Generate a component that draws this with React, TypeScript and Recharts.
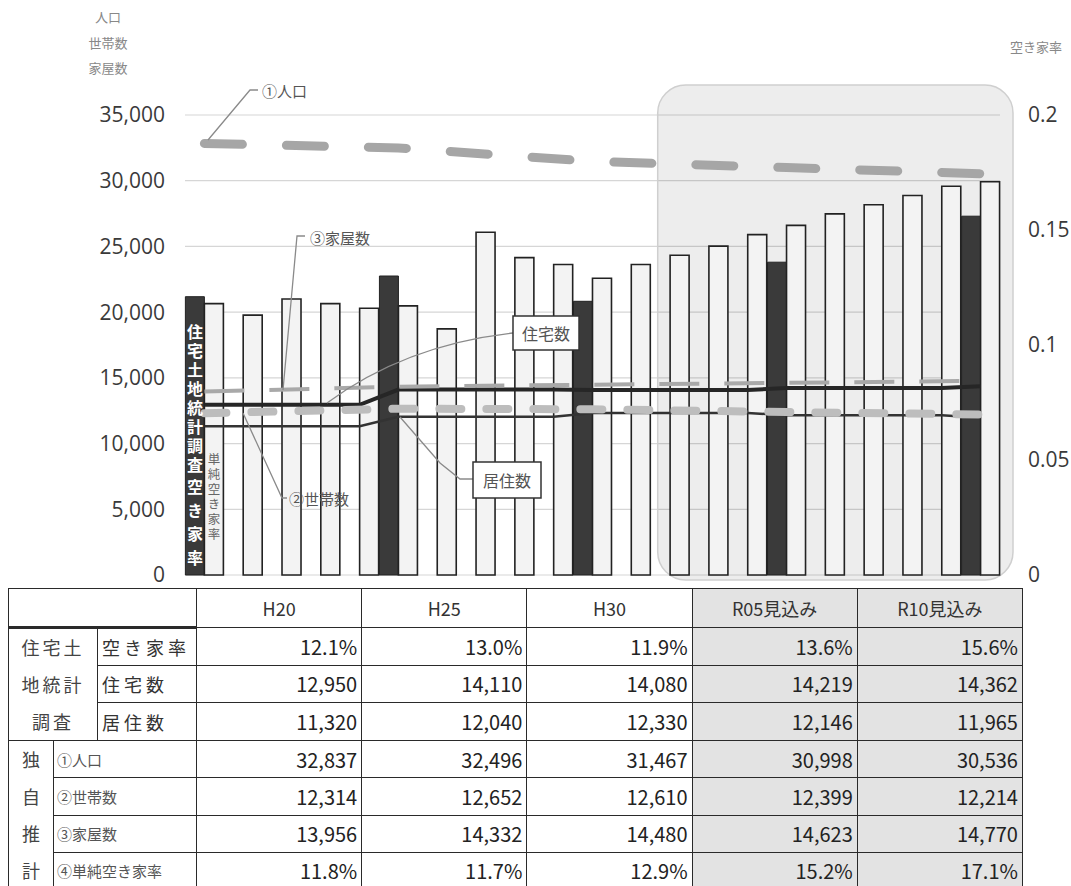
import React from "react";
import {
  ComposedChart,
  Bar,
  Line,
  XAxis,
  YAxis,
  CartesianGrid,
  ReferenceArea,
  LabelList,
} from "recharts";

const years = [
  "H20", "H21", "H22", "H23", "H24", "H25", "H26", "H27", "H28", "H29",
  "H30", "R01", "R02", "R03", "R04", "R05", "R06", "R07", "R08", "R09", "R10",
];

// 住宅土地統計調査 空き家率 (survey years only)
const surveyRate = [
  0.121, null, null, null, null, 0.13, null, null, null, null,
  0.119, null, null, null, null, 0.136, null, null, null, null, 0.156,
];
// ④単純空き家率 (annual bars)
const simpleRate = [
  0.118, 0.113, 0.12, 0.118, 0.116, 0.117, 0.107, 0.149, 0.138, 0.135,
  0.129, 0.135, 0.139, 0.143, 0.148, 0.152, 0.157, 0.161, 0.165, 0.169, 0.171,
];
// 住宅数 / 居住数 (carried between surveys as drawn)
const housing = [
  12950, 12950, 12950, 12950, 12950, 14110, 14110, 14110, 14110, 14110,
  14080, 14080, 14080, 14080, 14080, 14219, 14219, 14219, 14219, 14219, 14362,
];
const occupied = [
  11320, 11320, 11320, 11320, 11320, 12040, 12040, 12040, 12040, 12040,
  12330, 12330, 12330, 12330, 12330, 12146, 12146, 12146, 12146, 12146, 11965,
];
// 独自推計
const population = [
  32837, null, null, null, null, 32496, null, null, null, null,
  31467, null, null, null, null, 30998, null, null, null, null, 30536,
];
const households = [
  12314, null, null, null, null, 12652, null, null, null, null,
  12610, null, null, null, null, 12399, null, null, null, null, 12214,
];
const houses = [
  13956, null, null, null, null, 14332, null, null, null, null,
  14480, null, null, null, null, 14623, null, null, null, null, 14770,
];

const leftTicks = [0, 5000, 10000, 15000, 20000, 25000, 30000, 35000];
const rightTicks = [0, 0.05, 0.1, 0.15, 0.2];

const surveyIdx = [0, 5, 10, 15, 20];
const tableHeads = ["H20", "H25", "H30", "R05見込み", "R10見込み"];

const data = years.map((y, i) => ({
  year: y,
  surveyRate: surveyRate[i],
  simpleRate: simpleRate[i],
  housing: housing[i],
  occupied: occupied[i],
  population: population[i],
  households: households[i],
  houses: houses[i],
}));

const JP = '"Noto Sans CJK JP", "Noto Sans", sans-serif';
const NUM = '"Open Sans", "Noto Sans", sans-serif';

const fmtNum = (v: number) => v.toLocaleString("en-US");
const fmtPct = (v: number) => (v * 100).toFixed(1) + "%";

const vertical: React.CSSProperties = { writingMode: "vertical-rl" as any };

function SurveyBarText(props: any) {
  if (props.index !== 0) return null;
  const cx = props.x + props.width / 2;
  const bottom = props.y + props.height;
  return (
    <g fontFamily={JP} fontSize={16} fontWeight={700} fill="#fff">
      <text x={cx} y={bottom - 251} style={vertical} letterSpacing={3}>
        住宅土地統計調査
      </text>
      <text x={cx} y={bottom - 96} style={vertical} letterSpacing={7.5}>
        空き家率
      </text>
    </g>
  );
}

function SimpleBarText(props: any) {
  if (props.index !== 0) return null;
  const cx = props.x + props.width / 2;
  const bottom = props.y + props.height;
  return (
    <text
      x={cx}
      y={bottom - 122}
      style={vertical}
      letterSpacing={2.5}
      fontFamily={JP}
      fontSize={12.5}
      fill="#666"
    >
      単純空き家率
    </text>
  );
}

const ForecastArea = (p: any) => (
  <rect
    x={p.x + 7}
    y={p.y - 30}
    width={p.width + 6}
    height={p.height + 35}
    rx={28}
    ry={28}
    fill="rgba(0,0,0,0.07)"
    stroke="#cfcfcf"
    strokeWidth={1.5}
  />
);

function Callouts() {
  return (
    <svg
      width={1071}
      height={590}
      style={{ position: "absolute", left: 0, top: 0, pointerEvents: "none" }}
    >
      <g fontFamily={JP} fontSize={13} fill="#888" textAnchor="middle">
        <text x={108} y={22}>人口</text>
        <text x={108} y={48}>世帯数</text>
        <text x={108} y={73}>家屋数</text>
        <text x={1036} y={52}>空き家率</text>
      </g>
      <g stroke="#8a8a8a" strokeWidth={1.3} fill="none">
        <polyline points="208,140 250,90 258,90" />
        <polyline points="283,390 297,236 305,236" />
        <polyline points="243,413 282,498 287,498" />
        <path d="M327,403 Q405,345 513,333" />
        <polyline points="400,417 440,463 460,479 473,479" />
      </g>
      <g fontFamily={JP} fontSize={15} fill="#555" dominantBaseline="central">
        <text x={262} y={90}>①人口</text>
        <text x={310} y={237}>③家屋数</text>
        <text x={289} y={498}>②世帯数</text>
      </g>
      <rect x={513} y={316} width={66} height={34} fill="#fff" stroke="#333" strokeWidth={1.5} />
      <rect x={473} y={462} width={68} height={36} fill="#fff" stroke="#333" strokeWidth={1.5} />
      <g fontFamily={JP} fontSize={16} fill="#555" textAnchor="middle" dominantBaseline="central">
        <text x={546} y={333}>住宅数</text>
        <text x={507} y={480}>居住数</text>
      </g>
    </svg>
  );
}

const bd = "1.5px solid #2a2a2a";
const shade = "#e3e3e3";

function DataTable() {
  const rowH = 37;
  const numCell = (txt: string, i: number) => (
    <td
      key={i}
      style={{
        border: bd,
        textAlign: "right",
        paddingRight: 4,
        fontSize: 20,
        color: "#222",
        background: i >= 3 ? shade : "#fff",
        fontFamily: JP,
      }}
    >
      {txt}
    </td>
  );
  const surveyRows: [string, string[]][] = [
    ["空き家率", surveyIdx.map((i) => fmtPct(surveyRate[i] as number))],
    ["住宅数", surveyIdx.map((i) => fmtNum(housing[i]))],
    ["居住数", surveyIdx.map((i) => fmtNum(occupied[i]))],
  ];
  const ownRows: [string, string[]][] = [
    ["①人口", surveyIdx.map((i) => fmtNum(population[i] as number))],
    ["②世帯数", surveyIdx.map((i) => fmtNum(households[i] as number))],
    ["③家屋数", surveyIdx.map((i) => fmtNum(houses[i] as number))],
    ["④単純空き家率", surveyIdx.map((i) => fmtPct(simpleRate[i]))],
  ];
  const stack = (chars: string[], size: number, spacing: number) => (
    <div>
      {chars.map((c, i) => (
        <div key={i} style={{ height: rowH, lineHeight: rowH + "px", textAlign: "center", fontSize: size, letterSpacing: spacing, color: "#444" }}>
          {c}
        </div>
      ))}
    </div>
  );
  return (
    <table
      style={{
        position: "absolute",
        left: 8,
        top: 588,
        width: 1014,
        borderCollapse: "collapse",
        tableLayout: "fixed",
        fontFamily: JP,
        background: "#fff",
      }}
    >
      <colgroup>
        <col style={{ width: 45 }} />
        <col style={{ width: 44 }} />
        <col style={{ width: 99 }} />
        {tableHeads.map((h) => (
          <col key={h} style={{ width: 165.2 }} />
        ))}
      </colgroup>
      <tbody>
        <tr style={{ height: 39 }}>
          <td colSpan={3} style={{ border: bd, borderBottom: "3px solid #2a2a2a" }} />
          {tableHeads.map((h, i) => (
            <td
              key={h}
              style={{
                border: bd,
                textAlign: "center",
                fontSize: 18,
                color: "#333",
                background: i >= 3 ? shade : "#fff",
              }}
            >
              {h}
            </td>
          ))}
        </tr>
        {surveyRows.map(([label, vals], r) => (
          <tr key={label} style={{ height: rowH }}>
            {r === 0 && (
              <td colSpan={2} rowSpan={3} style={{ border: bd, padding: 0, verticalAlign: "middle" }}>
                {stack(["住宅土", "地統計", "調査"], 18, 3)}
              </td>
            )}
            <td style={{ border: bd, paddingLeft: 4, fontSize: 18, letterSpacing: 4, color: "#333", whiteSpace: "nowrap" }}>
              {label}
            </td>
            {vals.map((v, i) => numCell(v, i))}
          </tr>
        ))}
        {ownRows.map(([label, vals], r) => (
          <tr key={label} style={{ height: rowH }}>
            {r === 0 && (
              <td rowSpan={4} style={{ border: bd, padding: 0, verticalAlign: "middle" }}>
                {stack(["独", "自", "推", "計"], 18, 0)}
              </td>
            )}
            <td colSpan={2} style={{ border: bd, paddingLeft: 3, fontSize: 15, color: "#555", whiteSpace: "nowrap" }}>
              {label}
            </td>
            {vals.map((v, i) => numCell(v, i))}
          </tr>
        ))}
      </tbody>
    </table>
  );
}

export default function App() {
  return (
    <div
      style={{
        position: "absolute",
        left: 0,
        top: 0,
        width: 1071,
        height: 886,
        background: "#fff",
        overflow: "hidden",
      }}
    >
      <ComposedChart
        width={1071}
        height={590}
        data={data}
        margin={{ top: 115, right: 0, bottom: 15, left: 0 }}
        barGap={0}
        barCategoryGap="1%"
      >
        <CartesianGrid yAxisId="left" vertical={false} stroke="#d6d6d6" strokeWidth={1.2} />
        <XAxis dataKey="year" hide />
        <YAxis
          yAxisId="left"
          orientation="left"
          width={185}
          domain={[0, 35000]}
          ticks={leftTicks}
          tickFormatter={fmtNum}
          axisLine={false}
          tickLine={false}
          tickSize={0}
          tickMargin={20}
          tick={{ fontSize: 21, fill: "#3a3a3a", fontFamily: NUM }}
        />
        <YAxis
          yAxisId="right"
          orientation="right"
          width={71}
          domain={[0, 0.2]}
          ticks={rightTicks}
          axisLine={false}
          tickLine={false}
          tickSize={0}
          tickMargin={28}
          tick={{ fontSize: 21, fill: "#3a3a3a", fontFamily: NUM, textAnchor: "start" }}
        />
        <ReferenceArea yAxisId="right" x1="R02" x2="R10" shape={ForecastArea} ifOverflow="visible" />
        <Bar
          yAxisId="right"
          dataKey="surveyRate"
          name="住宅土地統計調査 空き家率"
          fill="#3a3a3a"
          stroke="#222"
          strokeWidth={1}
          isAnimationActive={false}
        >
          <LabelList dataKey="surveyRate" content={SurveyBarText} />
        </Bar>
        <Bar
          yAxisId="right"
          dataKey="simpleRate"
          name="④単純空き家率"
          fill="#f3f3f3"
          stroke="#222"
          strokeWidth={1.6}
          isAnimationActive={false}
        >
          <LabelList dataKey="simpleRate" content={SimpleBarText} />
        </Bar>
        <Line
          yAxisId="left"
          dataKey="occupied"
          name="居住数"
          stroke="#333"
          strokeWidth={2.5}
          dot={false}
          activeDot={false}
          isAnimationActive={false}
        />
        <Line
          yAxisId="left"
          dataKey="housing"
          name="住宅数"
          stroke="#262626"
          strokeWidth={4}
          dot={false}
          activeDot={false}
          isAnimationActive={false}
        />
        <Line
          yAxisId="left"
          dataKey="houses"
          name="③家屋数"
          stroke="#a9a9a9"
          strokeWidth={4}
          strokeDasharray="40 25"
          connectNulls
          dot={false}
          activeDot={false}
          isAnimationActive={false}
        />
        <Line
          yAxisId="left"
          dataKey="households"
          name="②世帯数"
          stroke="#bdbdbd"
          strokeWidth={8}
          strokeDasharray="22 25"
          strokeLinecap="round"
          connectNulls
          dot={false}
          activeDot={false}
          isAnimationActive={false}
        />
        <Line
          yAxisId="left"
          dataKey="population"
          name="①人口"
          stroke="#a6a6a6"
          strokeWidth={9}
          strokeDasharray="38 44"
          strokeLinecap="round"
          connectNulls
          dot={false}
          activeDot={false}
          isAnimationActive={false}
        />
      </ComposedChart>
      <Callouts />
      <DataTable />
    </div>
  );
}
